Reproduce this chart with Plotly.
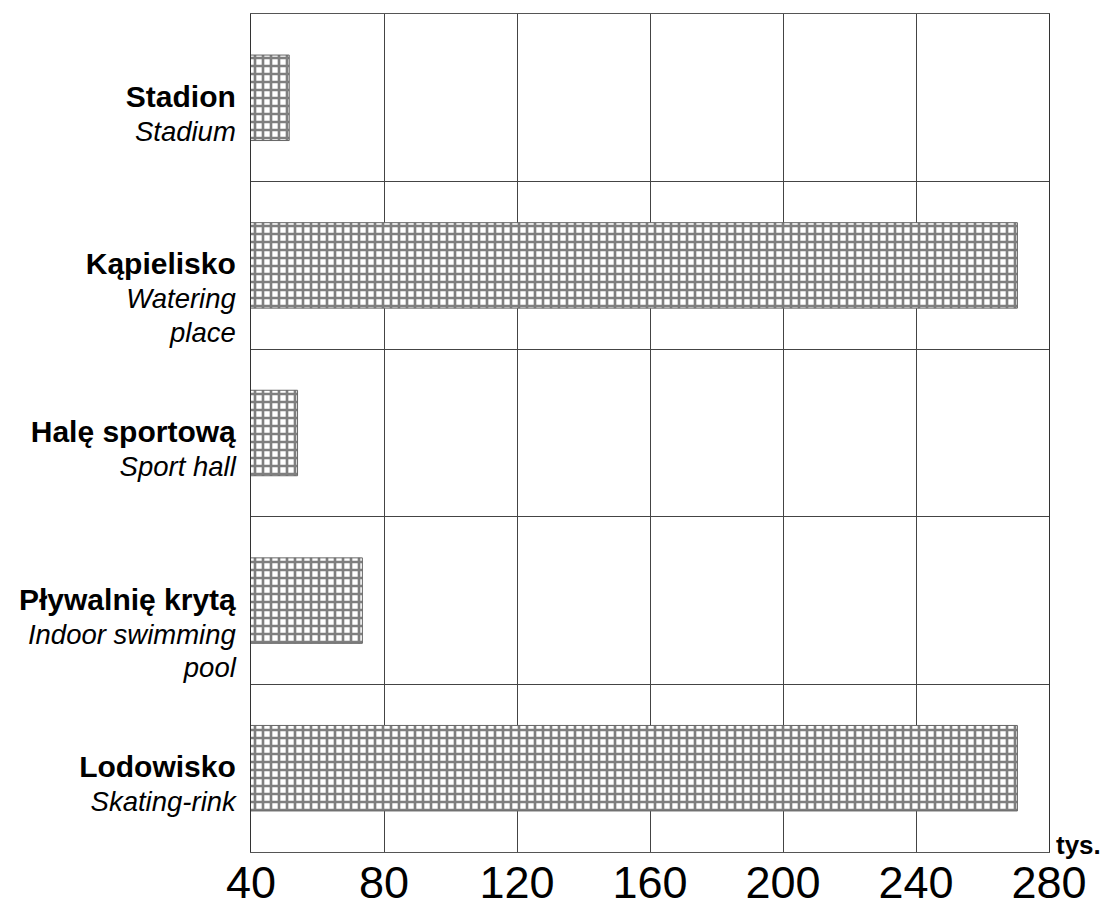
import plotly.graph_objects as go

# dane
obiekty = ["Stadion", "Kąpielisko", "Halę sportową", "Pływalnię krytą", "Lodowisko"]
obiekty_en = [["Stadium"], ["Watering", "place"], ["Sport hall"], ["Indoor swimming", "pool"], ["Skating-rink"]]
wartosci = [51.5, 270.5, 54, 73.5, 270.5]
x_ticks = [40, 80, 120, 160, 200, 240, 280]


def etykieta(pl, en):
    # puste linie na górze, żeby pierwsza linia była na środku pasa
    linie = [f'<span style="font-size:30px"><b>{pl}</b></span>']
    linie += [f'<span style="font-size:27.5px"><i>{t}</i></span>' for t in en]
    return " <br>" * (len(linie) - 1) + "<br>".join(linie)


etykiety = [etykieta(pl, en) for pl, en in zip(obiekty, obiekty_en)]

FONT = "Arial, Liberation Sans, sans-serif"

fig = go.Figure()
fig.add_trace(go.Bar(
    x=wartosci,
    y=etykiety,
    orientation="h",
    width=0.51,
    marker=dict(
        color="white",
        line=dict(color="#666666", width=1),
        pattern=dict(shape="+", fgcolor="black", bgcolor="white", size=8, solidity=0.55),
    ),
    showlegend=False,
))

# strona ma 8px marginesu body, stąd przesunięcie
fig.update_layout(
    width=1102,
    height=904,
    margin=dict(l=243, r=61, t=6, b=60),
    plot_bgcolor="white",
    paper_bgcolor="white",
    font=dict(family=FONT, color="black"),
)

fig.update_xaxes(
    range=[40, 280],
    tickvals=x_ticks,
    ticktext=[str(v) for v in x_ticks],
    tickfont=dict(size=45, family=FONT, color="black"),
    showgrid=True,
    gridcolor="#444444",
    gridwidth=1,
    showline=True,
    linecolor="#555555",
    linewidth=1,
    mirror=True,
    ticks="",
    ticklabelstandoff=-9,
    zeroline=False,
    automargin=False,
)

fig.update_yaxes(
    type="category",
    categoryorder="array",
    categoryarray=etykiety,
    autorange="reversed",
    tickson="boundaries",
    showgrid=True,
    gridcolor="#444444",
    gridwidth=1,
    showline=True,
    linecolor="#333333",
    linewidth=1,
    mirror=True,
    ticks="",
    ticklabelstandoff=9,
    tickfont=dict(size=26, family=FONT, color="black"),
    automargin=False,
)

fig.add_annotation(
    text="<b>tys.</b>",
    xref="paper", yref="paper",
    x=1, y=0,
    xanchor="left", yanchor="middle",
    xshift=5,
    yshift=7,
    showarrow=False,
    font=dict(size=26, family=FONT, color="black"),
)

fig.write_html("out.html")
